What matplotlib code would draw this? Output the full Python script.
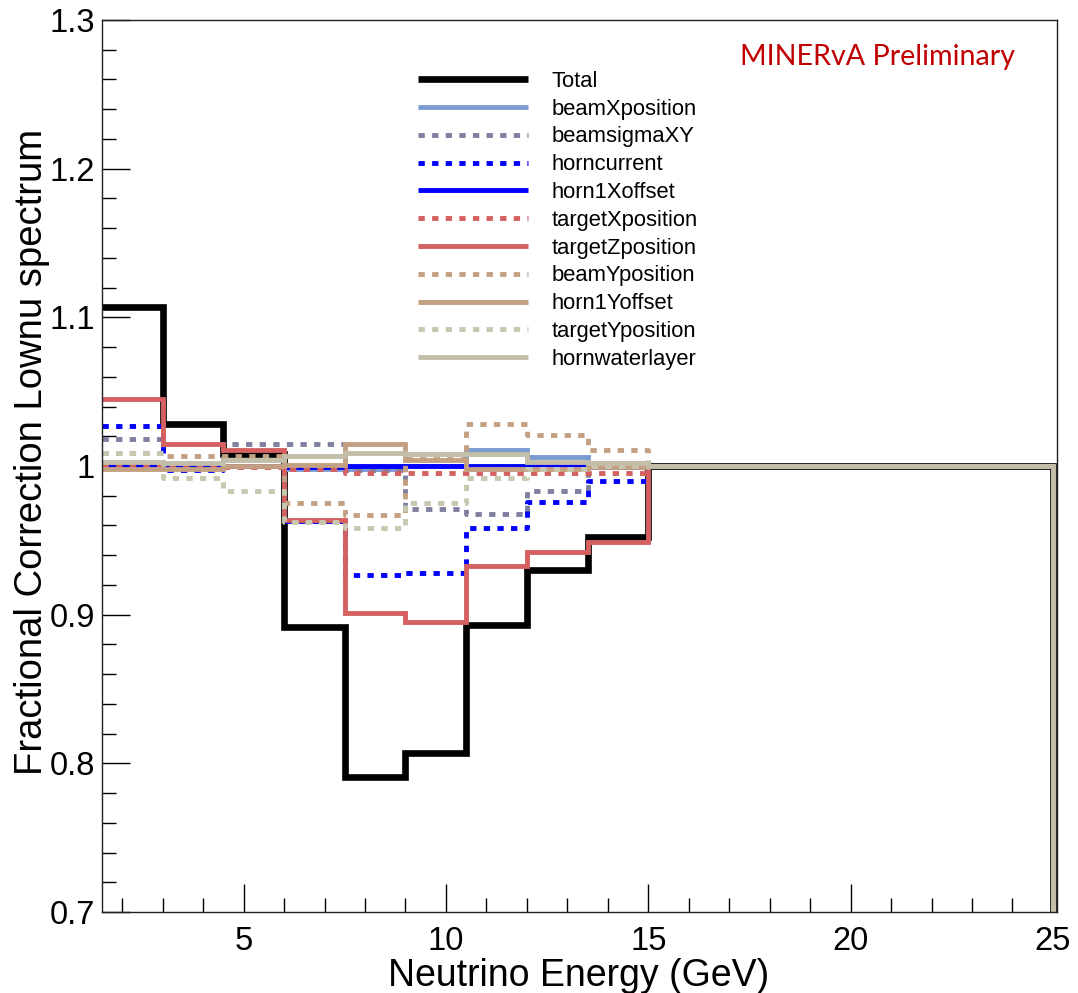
import numpy as np
import matplotlib
matplotlib.use("Agg")
import matplotlib.pyplot as plt
from matplotlib.lines import Line2D

bin_edges = [1.5, 3, 4.5, 6, 7.5, 9, 10.5, 12, 13.5, 15, 25]

total          = [1.107, 1.028, 1.008, 0.892, 0.791, 0.807, 0.893, 0.930, 0.952, 1.0]
beamXposition  = [1.000, 1.000, 1.000, 0.998, 0.998, 1.000, 1.011, 1.006, 1.002, 1.0]
beamsigmaXY    = [1.018, 1.001, 1.015, 1.015, 0.997, 0.971, 0.968, 0.983, 1.000, 1.0]
horncurrent    = [1.027, 0.997, 1.000, 0.963, 0.927, 0.928, 0.958, 0.976, 0.990, 1.0]
horn1Xoffset   = [1.000, 1.000, 1.000, 0.999, 1.000, 1.000, 1.000, 1.000, 0.999, 1.0]
targetXposition = [1.000, 0.999, 0.999, 0.998, 0.995, 0.995, 0.995, 0.995, 0.995, 1.0]
targetZposition = [1.045, 1.015, 1.011, 0.964, 0.901, 0.895, 0.933, 0.942, 0.949, 1.0]
beamYposition  = [1.009, 1.007, 1.007, 0.975, 0.967, 1.005, 1.028, 1.021, 1.011, 1.0]
horn1Yoffset   = [0.998, 0.998, 1.000, 1.001, 1.015, 1.004, 0.998, 0.998, 0.999, 1.0]
targetYposition = [1.009, 0.992, 0.983, 0.962, 0.958, 0.975, 0.992, 0.998, 1.000, 1.0]
hornwaterlayer = [1.003, 1.002, 1.004, 1.007, 1.009, 1.008, 1.008, 1.003, 1.002, 1.0]

series_names = ["Total", "beamXposition", "beamsigmaXY", "horncurrent", "horn1Xoffset",
                "targetXposition", "targetZposition", "beamYposition", "horn1Yoffset",
                "targetYposition", "hornwaterlayer"]
series_vals = [total, beamXposition, beamsigmaXY, horncurrent, horn1Xoffset,
               targetXposition, targetZposition, beamYposition, horn1Yoffset,
               targetYposition, hornwaterlayer]

dot = (0, (1.3, 1.5))
styles = {
    "Total":           dict(color="#000000", lw=4.8, ls="-"),
    "beamXposition":   dict(color="#7b9bd3", lw=3.5, ls="-"),
    "beamsigmaXY":     dict(color="#7f7fa0", lw=3.5, ls=dot),
    "horncurrent":     dict(color="#0000ff", lw=3.5, ls=dot),
    "horn1Xoffset":    dict(color="#0000ff", lw=3.5, ls="-"),
    "targetXposition": dict(color="#d46060", lw=3.5, ls=dot),
    "targetZposition": dict(color="#d46060", lw=3.5, ls="-"),
    "beamYposition":   dict(color="#c4a082", lw=3.5, ls=dot),
    "horn1Yoffset":    dict(color="#c4a082", lw=3.5, ls="-"),
    "targetYposition": dict(color="#c8c8b0", lw=3.5, ls=dot),
    "hornwaterlayer":  dict(color="#c2bea8", lw=3.5, ls="-"),
}

plt.rcParams['font.family'] = ['Liberation Sans', 'DejaVu Sans']

fig = plt.figure(figsize=(10.78, 9.93), dpi=100)
ax = fig.add_axes([102/1078, 1 - 912/993, (1057 - 102)/1078, (912 - 20)/993])

ymin, ymax = 0.7, 1.3
edges = np.array(bin_edges)
handles = []
for name, vals in zip(series_names, series_vals):
    st = styles[name]
    # step outline built from the bin edges and bin values
    px = [edges[0]]
    py = [vals[0]]
    for i, v in enumerate(vals):
        px += [edges[i], edges[i + 1]]
        py += [v, v]
    px += [edges[-1]]
    py += [ymin - 0.05]
    ax.plot(px, py, color=st["color"], lw=st["lw"], linestyle=st["ls"],
            solid_capstyle="butt", dash_capstyle="butt", solid_joinstyle="miter")
    handles.append(Line2D([0], [0], color=st["color"], lw=st["lw"], linestyle=st["ls"],
                          dash_capstyle="butt", solid_capstyle="butt"))

ax.set_xlim(1.5, 25.1)
ax.set_ylim(ymin, ymax)
ax.set_xticks([5, 10, 15, 20, 25])
ax.set_xticklabels(["5", "10", "15", "20", "25"])
ax.set_xticks(np.arange(2, 25, 1), minor=True)
ax.set_yticks([0.7, 0.8, 0.9, 1.0, 1.1, 1.2, 1.3])
ax.set_yticklabels(["0.7", "0.8", "0.9", "1", "1.1", "1.2", "1.3"])
ax.set_yticks(np.arange(0.72, 1.3, 0.02), minor=True)
ax.tick_params(axis="both", which="major", direction="in", length=20, width=1.0,
               labelsize=23.5, top=False, right=False)
ax.tick_params(axis="both", which="minor", direction="in", length=10, width=1.0,
               top=False, right=False)
ax.tick_params(axis="y", which="major", pad=5)
ax.tick_params(axis="x", which="major", pad=10)
for s in ax.spines.values():
    s.set_linewidth(1.0)
    s.set_color("#222222")

ax.set_xlabel("Neutrino Energy (GeV)", fontsize=27, labelpad=-6)
ax.xaxis.set_label_coords(0.499, -0.052)
ax.set_ylabel("Fractional Correction Lownu spectrum", fontsize=27.5)
ax.yaxis.set_label_coords(-0.0546, 0.516)

leg = ax.legend(handles, series_names, loc="upper left", bbox_to_anchor=(0.331, 0.943),
                frameon=False, fontsize=15.8, handlelength=5.0, handletextpad=1.1,
                labelspacing=0.31, borderaxespad=0, borderpad=0)

fig.text(740/1078, 1 - 57/993, "MINERvA Preliminary", color="#c00000",
         fontsize=20.6, family=["Lato", "DejaVu Sans"], va="center", ha="left")

fig.savefig("out.png", dpi=100)
